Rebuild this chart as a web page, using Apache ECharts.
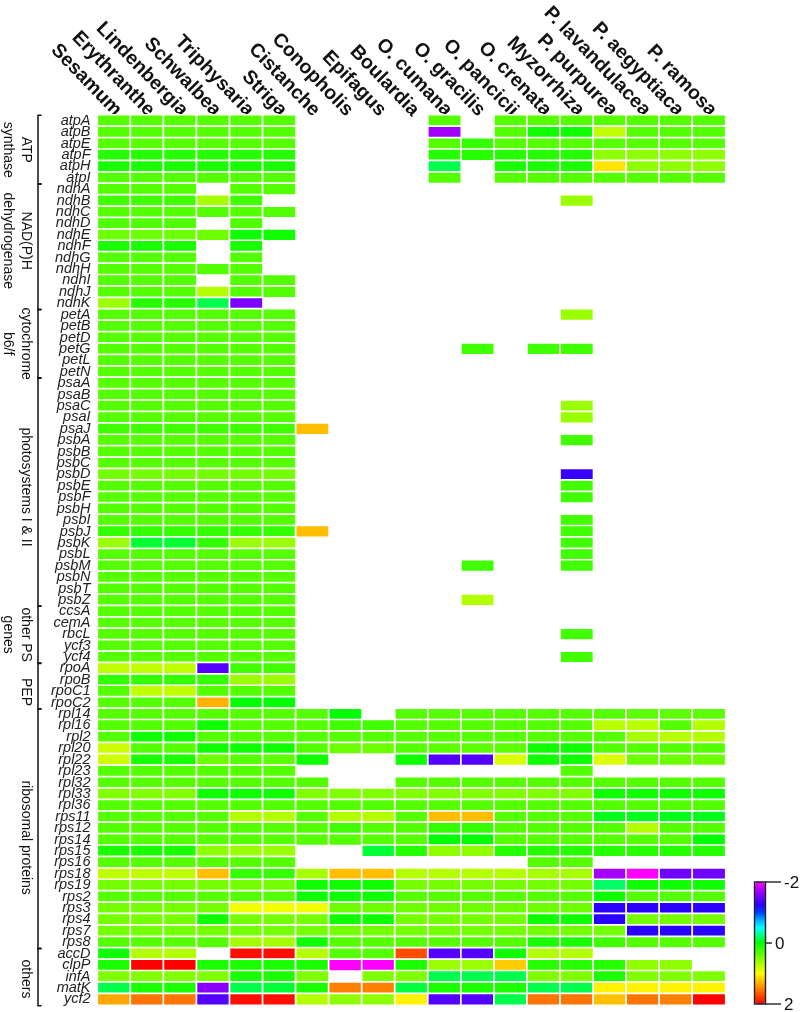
<!DOCTYPE html>
<html>
<head>
<meta charset="utf-8">
<style>html,body{margin:0;padding:0;background:#fff}#c{width:802px;height:1012px}</style>
<script src="https://cdn.jsdelivr.net/npm/echarts@6/dist/echarts.min.js"></script>
</head>
<body>
<div id="c"></div>
<script>
const species = ["Sesamum","Erythranthe","Lindenbergia","Schwalbea","Triphysaria","Striga","Cistanche","Conopholis","Epifagus","Boulardia","O. cumana","O. gracilis","O. pancicii","O. crenata","Myzorrhiza","P. purpurea","P. lavandulacea","P. aegyptiaca","P. ramosa"];
const _ = null;
const atpGenes = ["atpA","atpB","atpE","atpF","atpH","atpI"];
const atpValues = [
 [.33,.33,.33,.33,.33,.33,_,_,_,_,.33,_,.33,.33,.33,.33,.33,.33,.33],
 [.33,.33,.33,.33,.33,.33,_,_,_,_,-1.7,_,.33,.05,.05,.75,.33,.33,.33],
 [.33,.33,.33,.33,.33,.33,_,_,_,_,.33,.2,.33,.33,.33,.33,.33,.33,.33],
 [.15,.15,.15,.15,.15,.15,_,_,_,_,.15,.15,.15,.15,.15,.55,.55,.55,.55],
 [.1,.1,.1,.1,.1,.1,_,_,_,_,-.15,_,.1,.1,.1,1.1,.55,.55,.55],
 [.33,.33,.33,.33,.33,.33,_,_,_,_,.33,_,.33,.33,.33,.33,.33,.33,.33]];
const ndhGenes = ["ndhA","ndhB","ndhC","ndhD","ndhE","ndhF","ndhG","ndhH","ndhI","ndhJ","ndhK"];
const ndhValues = [
 [.33,.33,.33,_,.33,.33,_,_,_,_,_,_,_,_,_,_,_,_,_],
 [.25,.25,.25,.65,.25,_,_,_,_,_,_,_,_,_,.6,_,_,_,_],
 [.33,.33,.33,.33,.33,.33,_,_,_,_,_,_,_,_,_,_,_,_,_],
 [.3,.3,.3,_,.3,_,_,_,_,_,_,_,_,_,_,_,_,_,_],
 [.42,.42,.42,.42,.05,.05,_,_,_,_,_,_,_,_,_,_,_,_,_],
 [.1,.1,.1,_,.1,_,_,_,_,_,_,_,_,_,_,_,_,_,_],
 [.33,.33,.33,_,.33,_,_,_,_,_,_,_,_,_,_,_,_,_,_],
 [.33,.33,.33,.33,.33,_,_,_,_,_,_,_,_,_,_,_,_,_,_],
 [.33,.33,.33,_,.33,.33,_,_,_,_,_,_,_,_,_,_,_,_,_],
 [.33,.33,.33,.7,.33,.33,_,_,_,_,_,_,_,_,_,_,_,_,_],
 [.6,.15,.15,-.15,-1.55,_,_,_,_,_,_,_,_,_,_,_,_,_,_]];
const petGenes = ["petA","petB","petD","petG","petL","petN"];
const petValues = [
 [.33,.33,.33,.33,.33,.33,_,_,_,_,_,_,_,_,.6,_,_,_,_],
 [.33,.33,.33,.33,.33,.33,_,_,_,_,_,_,_,_,_,_,_,_,_],
 [.33,.33,.33,.33,.33,.33,_,_,_,_,_,_,_,_,_,_,_,_,_],
 [.33,.33,.33,.33,.33,.33,_,_,_,_,_,.25,_,.25,.25,_,_,_,_],
 [.33,.33,.33,.33,.33,.33,_,_,_,_,_,_,_,_,_,_,_,_,_],
 [.33,.33,.33,.33,.33,.33,_,_,_,_,_,_,_,_,_,_,_,_,_]];
const psGenes = ["psaA","psaB","psaC","psaI","psaJ","psbA","psbB","psbC","psbD","psbE","psbF","psbH","psbI","psbJ","psbK","psbL","psbM","psbN","psbT","psbZ"];
const psValues = [
 [.33,.33,.33,.33,.33,.33,_,_,_,_,_,_,_,_,_,_,_,_,_],
 [.33,.33,.33,.33,.33,.33,_,_,_,_,_,_,_,_,_,_,_,_,_],
 [.33,.33,.33,.33,.33,.33,_,_,_,_,_,_,_,_,.6,_,_,_,_],
 [.33,.33,.33,.33,.33,.33,_,_,_,_,_,_,_,_,.6,_,_,_,_],
 [.25,.25,.25,.25,.25,.25,1.25,_,_,_,_,_,_,_,_,_,_,_,_],
 [.33,.33,.33,.33,.33,.33,_,_,_,_,_,_,_,_,.25,_,_,_,_],
 [.33,.33,.33,.33,.33,.33,_,_,_,_,_,_,_,_,_,_,_,_,_],
 [.33,.33,.33,.33,.33,.33,_,_,_,_,_,_,_,_,_,_,_,_,_],
 [.45,.45,.45,.45,.45,.45,_,_,_,_,_,_,_,_,-1.3,_,_,_,_],
 [.33,.33,.33,.33,.33,.33,_,_,_,_,_,_,_,_,.25,_,_,_,_],
 [.33,.33,.33,.33,.33,.33,_,_,_,_,_,_,_,_,.25,_,_,_,_],
 [.33,.33,.33,.33,.33,.33,_,_,_,_,_,_,_,_,_,_,_,_,_],
 [.33,.33,.33,.33,.33,.33,_,_,_,_,_,_,_,_,.25,_,_,_,_],
 [.2,.2,.2,.2,.2,.2,1.25,_,_,_,_,_,_,_,.25,_,_,_,_],
 [.6,-.1,-.1,.2,.6,.6,_,_,_,_,_,_,_,_,.25,_,_,_,_],
 [.33,.33,.33,.33,.33,.33,_,_,_,_,_,_,_,_,.25,_,_,_,_],
 [.33,.33,.33,.33,.33,.33,_,_,_,_,_,.25,_,_,.25,_,_,_,_],
 [.33,.33,.33,.33,.33,.33,_,_,_,_,_,_,_,_,_,_,_,_,_],
 [.33,.33,.33,.33,.33,.33,_,_,_,_,_,_,_,_,_,_,_,_,_],
 [.33,.33,.33,.33,.33,.33,_,_,_,_,_,.7,_,_,_,_,_,_,_]];
const otherPsGenes = ["ccsA","cemA","rbcL","ycf3","ycf4"];
const otherPsValues = [
 [.33,.33,.33,.33,.33,.33,_,_,_,_,_,_,_,_,_,_,_,_,_],
 [.33,.33,.33,.33,.33,.33,_,_,_,_,_,_,_,_,_,_,_,_,_],
 [.33,.33,.33,.33,.33,.33,_,_,_,_,_,_,_,_,.25,_,_,_,_],
 [.33,.33,.33,.33,.33,.33,_,_,_,_,_,_,_,_,_,_,_,_,_],
 [.33,.33,.33,.33,.33,.33,_,_,_,_,_,_,_,_,.25,_,_,_,_]];
const pepGenes = ["rpoA","rpoB","rpoC1","rpoC2"];
const pepValues = [
 [.75,.75,.75,-1.4,.25,.25,_,_,_,_,_,_,_,_,_,_,_,_,_],
 [.2,.2,.2,.2,.6,.6,_,_,_,_,_,_,_,_,_,_,_,_,_],
 [.33,.75,.75,.33,.33,.33,_,_,_,_,_,_,_,_,_,_,_,_,_],
 [.33,.33,.33,1.3,0,0,_,_,_,_,_,_,_,_,_,_,_,_,_]];
const riboGenes = ["rpl14","rpl16","rpl2","rpl20","rpl22","rpl23","rpl32","rpl33","rpl36","rps11","rps12","rps14","rps15","rps16","rps18","rps19","rps2","rps3","rps4","rps7","rps8"];
const riboValues = [
 [.33,.33,.33,.33,.33,.33,.33,0,_,.33,.33,.33,.33,.33,.33,.33,.36,.36,.36],
 [.33,.33,.33,.05,.33,.33,.33,.25,.25,.33,.33,.33,.33,.33,.33,.72,.72,.33,.7],
 [.33,.05,.05,.33,.33,.33,.33,.33,.33,.33,.33,.33,.33,.33,.33,.33,.65,.72,.7],
 [.8,.33,.33,.05,.05,.05,.33,.42,.42,.33,.36,.36,.36,.05,.05,.33,.33,.33,.33],
 [.8,.1,.1,.42,.33,.36,.05,_,_,.05,-1.4,-1.4,.85,.05,.05,.85,.42,.42,.42],
 [.33,.33,.33,.33,.33,.33,_,_,_,_,_,_,_,_,.33,_,_,_,_],
 [.33,.33,.33,.33,.33,.33,.33,_,_,.33,.33,.33,.33,.33,.33,.33,.33,.33,.33],
 [.5,.5,.5,.05,.05,.05,.5,.5,.5,.5,.5,.5,.5,.5,.5,.05,.05,.05,.05],
 [.33,.33,.33,.33,.33,.33,.33,.33,.33,.33,.33,.33,.33,.33,.33,.33,.33,.33,.33],
 [.33,.33,.33,.33,.7,.7,.33,.7,.7,.33,1.25,1.25,.33,.33,.33,-.05,-.05,-.05,-.05],
 [.33,.33,.33,.33,.33,.33,.33,.25,.33,.33,.2,.2,.33,.33,.33,.33,.7,.33,.33],
 [.33,.33,.33,.33,.33,.33,.33,.33,.33,.33,0,0,.33,.33,.33,.33,.33,.33,0],
 [.1,.1,.1,.55,.6,.6,_,_,-.1,.15,.55,.55,.15,.15,.15,.15,.15,.15,.15],
 [.33,.33,.33,.33,.33,.33,_,_,_,_,_,_,_,.33,.33,_,_,_,_],
 [.75,.75,.75,1.25,.2,.2,.65,1.25,1.25,.7,.7,.7,.7,.65,.65,-1.7,-2,-1.5,-1.5],
 [.45,.45,.45,.45,.45,.45,.05,.05,.05,.45,.45,.45,.45,.45,.45,-.2,.05,.05,.05],
 [.33,.33,.33,.33,.33,.33,.05,.05,.05,.33,.33,.33,.33,.33,.33,.05,.33,.33,.33],
 [.45,.45,.45,.45,.95,.95,.95,.42,.42,.42,.42,.42,.42,.42,.42,-1.25,-1.25,-1.25,-1.25],
 [.45,.45,.45,.05,.45,.45,.45,.05,.05,.45,.45,.45,.45,.05,.05,-1.25,.45,.45,.45],
 [.45,.45,.45,.45,.45,.45,.45,.45,.45,.45,.45,.45,.45,.45,.45,.45,-1.25,-1.25,-1.25],
 [.33,.33,.33,.33,.65,.65,.05,.33,.33,.33,.33,.33,.33,.1,.1,.25,.33,.33,.33]];
const othersGenes = ["accD","clpP","infA","matK","ycf2"];
const othersValues = [
 [.05,.7,.7,_,1.95,1.95,.7,.33,.33,1.7,-1.4,-1.4,.05,.7,.7,_,_,_,_],
 [.1,2,2,.1,.1,.1,.1,-2,-2,.1,.6,.6,1.2,.15,.15,.15,.55,.55,_],
 [.5,.5,.5,.5,.1,.1,.5,_,.5,.5,-.15,-.15,-.15,.5,.5,.1,.5,.5,.5],
 [-.15,.1,.1,-1.6,-.15,-.1,.1,1.5,1.5,-.12,.1,.1,.1,-.15,-.15,1.05,1.05,1.05,1.05],
 [1.35,1.55,1.55,-1.4,1.95,1.95,.7,.55,.55,1.05,-1.4,-1.4,-.15,1.55,1.55,1.25,1.55,1.5,2]];
const groupNames = [["ATP","synthase"],["NAD(P)H","dehydrogenase"],["cytochrome","b6/f"],["photosystems I & II"],["other PS","genes"],["PEP"],["ribosomal proteins"],["others"]];
const groupGenes = [atpGenes,ndhGenes,petGenes,psGenes,otherPsGenes,pepGenes,riboGenes,othersGenes];
const groupValues = [atpValues,ndhValues,petValues,psValues,otherPsValues,pepValues,riboValues,othersValues];
const legendTicks = [-2,0,2];
const legendColors = ["#ff00ff","#b000ff","#7000ff","#2a00ff","#0040ff","#00aaff","#00ffff","#00ff80","#00ff00","#40ff00","#80ff00","#c0ff00","#ffff00","#ffbf00","#ff8000","#ff4000","#ff0000"];

const genes = groupGenes.flat();
const cells = [];
groupValues.flat().forEach((row, r) => row.forEach((v, c) => { if (v !== null) cells.push([c, r, v]); }));
let start = 0;
const groupSpans = groupGenes.map(g => { const s = [start, start + g.length - 1]; start += g.length; return s; });

const FONT = '"Liberation Sans", Arial, sans-serif';
const labelShift = [0, -6, 0, -5, 0, 6, 9, 2];

const chart = echarts.init(document.getElementById('c'), null, {renderer:'canvas'});
chart.setOption({
  animation:false,
  backgroundColor:'#fff',
  grid:[
    {left:97.5,top:115,width:628,height:890},
    {left:755,top:882,width:10,height:122}
  ],
  xAxis:[
    {type:'category',data:species,position:'top',gridIndex:0,axisLine:{show:false},axisTick:{show:false},splitLine:{show:false},
     axisLabel:{interval:0,rotate:46,margin:6,align:'right',verticalAlign:'middle',fontFamily:FONT,fontWeight:'bold',fontSize:19.5,color:'#111',padding:[0,-6,0,0]}},
    {type:'value',gridIndex:1,min:0,max:1,show:false}
  ],
  yAxis:[
    {type:'category',data:genes,inverse:true,gridIndex:0,axisLine:{show:false},axisTick:{show:false},splitLine:{show:false},
     axisLabel:{interval:0,margin:7,fontFamily:FONT,fontStyle:'italic',fontSize:14.5,color:'#222'}},
    {type:'value',gridIndex:1,min:-2,max:2,inverse:true,interval:2,show:false}
  ],
  visualMap:{type:'continuous',seriesIndex:0,min:-2,max:2,inverse:true,calculable:false,hoverLink:false,realtime:false,
    left:755,top:882,itemWidth:10,itemHeight:122,padding:0,text:null,showLabel:false,inRange:{color:legendColors}},
  series:[
    {type:'heatmap',xAxisIndex:0,yAxisIndex:0,data:cells,itemStyle:{borderColor:'#fff',borderWidth:1.7},emphasis:{disabled:true},z:2},
    {type:'custom',xAxisIndex:0,yAxisIndex:0,clip:false,silent:true,z:5,
     data:groupSpans.map((s,i)=>[s[0],s[1],i]),
     renderItem(params,api){
       const band = api.size([0,1])[1];
       const y0 = api.coord([0,api.value(0)])[1]-band/2+0.3;
       const y1 = api.coord([0,api.value(1)])[1]+band/2+0.7;
       const names = groupNames[api.value(2)];
       const yc = (y0+y1)/2+labelShift[api.value(2)];
       const kids = [{type:'polyline',shape:{points:[[41.5,y0],[38,y0],[38,y1],[41.5,y1]]},style:{stroke:'#111',lineWidth:1.5,fill:null}}];
       names.forEach((n,i)=>kids.push({type:'text',x:i===0?26:8,y:yc,rotation:-Math.PI/2,
         style:{text:n,fill:'#111',font:'14px '+FONT,align:'center',verticalAlign:'middle'}}));
       return {type:'group',children:kids};
     }},
    {type:'custom',xAxisIndex:1,yAxisIndex:1,clip:false,silent:true,z:20,
     data:legendTicks.map(t=>[0,t]),
     renderItem(params,api){
       const t = api.value(1);
       const p = api.coord([1,t]);
       const end = t===0;
       const kids = [{type:'line',shape:{x1:p[0],y1:p[1],x2:p[0]+(end?7:16),y2:p[1]},style:{stroke:'#222',lineWidth:1.4}},
         {type:'text',x:p[0]+(end?10:19),y:p[1]+1,style:{text:String(t),fill:'#111',font:'17px '+FONT,align:'left',verticalAlign:'middle'}}];
       if(params.dataIndex===0){
         kids.push({type:'rect',shape:{x:p[0]-10.5,y:p[1],width:11,height:122},style:{stroke:'#222',lineWidth:1.4,fill:null}});
       }
       return {type:'group',children:kids};
     }}
  ]
});
</script>
</body>
</html>
